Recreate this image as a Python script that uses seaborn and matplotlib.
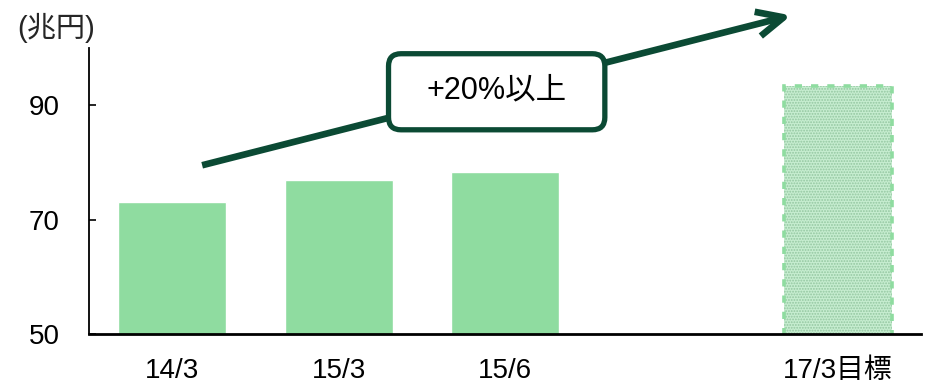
import matplotlib
matplotlib.use("Agg")
import matplotlib.pyplot as plt
from matplotlib.patches import FancyBboxPatch
import seaborn as sns
import pandas as pd

# data
categories = ["14/3", "15/3", "15/6", "17/3目標"]
values = [73.0, 76.9, 78.3, 93.3]
slot_order = ["14/3", "15/3", "15/6", " ", "17/3目標"]
y_ticks = [50, 70, 90]
unit_label = "(兆円)"
growth_label = "+20%以上"

sns.set_theme(style="white")
plt.rcParams["font.family"] = ["Liberation Sans", "Noto Sans CJK JP", "DejaVu Sans"]
plt.rcParams["hatch.linewidth"] = 0.9

BAR = "#8fdca0"
TARGET_FACE = "#c6edd0"
DARK = "#0b4a34"
FS = 20

fig = plt.figure(figsize=(9.28, 3.85), dpi=100)
ax = fig.add_axes([89 / 928, (385 - 334) / 385, (921 - 89) / 928, (334 - 48) / 385])

df = pd.DataFrame({"period": categories, "value": values})
sns.barplot(data=df, x="period", y="value", order=slot_order, color=BAR,
            saturation=1, width=0.65, ax=ax)

# target bar: dotted fill with dashed outline
target = ax.patches[-1]
target.set_facecolor(TARGET_FACE)
target.set_edgecolor("#93c6a0")
target.set_hatch("......")
target.set_linewidth(0)
x0, w, h = target.get_x(), target.get_width(), target.get_height()
ax.bar(x0 + w / 2, h, width=w, bottom=0, fill=False, edgecolor=BAR,
       linewidth=2.6, linestyle=(0, (2, 2.5)), zorder=3)

ax.set_ylim(50, 100)
ax.set_xlim(-0.5, 4.5)
ax.set_yticks(y_ticks)
ax.set_yticklabels([str(t) for t in y_ticks])
ax.set_xlabel("")
ax.set_ylabel("")
ax.tick_params(axis="y", direction="in", length=5, width=1.2, color="black",
               labelsize=FS, pad=21, left=True)
ax.tick_params(axis="x", length=0, labelsize=FS, pad=17)
for lbl in ax.get_xticklabels() + ax.get_yticklabels():
    lbl.set_color("black")
sns.despine(ax=ax)
ax.spines["left"].set_color("black")
ax.spines["left"].set_linewidth(1.3)
ax.spines["bottom"].set_color("black")
ax.spines["bottom"].set_linewidth(2.0)
ax.spines["bottom"].set_zorder(4)

fig.text(17 / 928, 1 - 28 / 385, unit_label, fontsize=21, va="center", ha="left")

# growth arrow
ax.annotate("", xy=(3.72, 105.7), xytext=(0.18, 79.5),
            arrowprops=dict(arrowstyle="->,head_length=1.6,head_width=0.75",
                            color=DARK, lw=4.8, capstyle="butt",
                            shrinkA=0, shrinkB=0),
            annotation_clip=False)

# rounded label box sitting on the arrow
box = FancyBboxPatch((1.30, 85.7), 1.30, 13.3,
                     boxstyle="round,pad=0,rounding_size=0.075",
                     mutation_aspect=29, facecolor="white", edgecolor=DARK,
                     linewidth=3.8, zorder=5, clip_on=False)
ax.add_patch(box)
ax.text(1.95, 92.5, growth_label, fontsize=22, ha="center", va="center",
        color="black", zorder=6)

fig.savefig("out.png", dpi=100)
